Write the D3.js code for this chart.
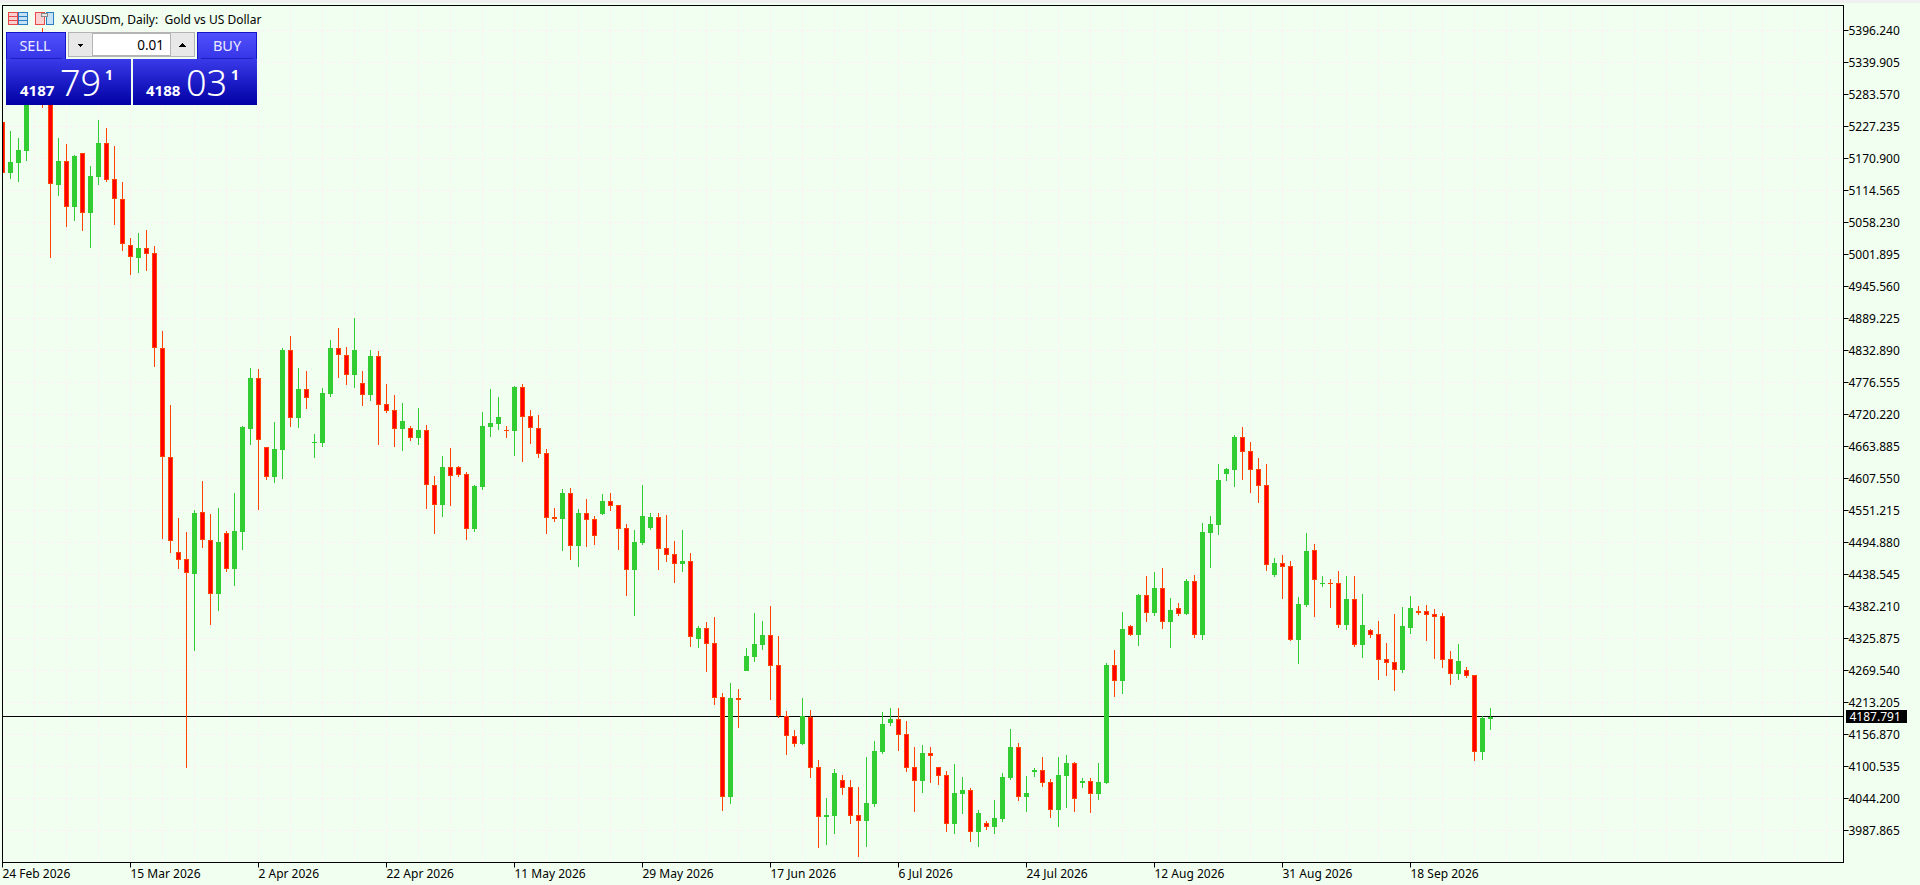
<!DOCTYPE html>
<html>
<head>
<meta charset="utf-8">
<title>XAUUSDm, Daily</title>
<script src="https://cdnjs.cloudflare.com/ajax/libs/d3/7.8.5/d3.min.js"></script>
<style>
html,body{margin:0;padding:0;background:#F0FFF0;overflow:hidden}
svg{display:block}
</style>
</head>
<body>
<svg id="c" width="1920" height="885"></svg>
<script>
const symbolTitle = "XAUUSDm, Daily:  Gold vs US Dollar";
const lastPrice = 4187.791;
const priceTicks = [5396.24,5339.905,5283.57,5227.235,5170.9,5114.565,5058.23,5001.895,4945.56,4889.225,4832.89,4776.555,4720.22,4663.885,4607.55,4551.215,4494.88,4438.545,4382.21,4325.875,4269.54,4213.205,4156.87,4100.535,4044.2,3987.865];
const dateTickBars = [0,16,32,48,64,80,96,112,128,144,160,176];
const dateTickLabels = ["24 Feb 2026","15 Mar 2026","2 Apr 2026","22 Apr 2026","11 May 2026","29 May 2026","17 Jun 2026","6 Jul 2026","24 Jul 2026","12 Aug 2026","31 Aug 2026","18 Sep 2026"];
const gridBars = d3.range(4,231,4);

const opens = [
5235.2,5145.4,5162.9,5184.1,5273.9,5353.1,5282.7,5124.2,5166.5,5085.5,
5180.6,5074.9,5138.3,5198.2,5134.8,5099.6,5018.6,4995.7,5013.4,5004.5,
4837.3,4645.4,4478.2,4465.8,4439.4,4548.6,4499.3,4404.2,4511.6,4448.2,
4513.4,4694.7,4784.4,4663.0,4610.2,4657.7,4833.8,4714.0,4765.1,4670.0,
4670.0,4756.3,4837.3,4825.0,4789.7,4775.7,4754.6,4823.2,4738.7,4728.1,
4694.7,4696.4,4678.8,4692.9,4596.1,4560.9,4627.8,4627.8,4615.5,4518.6,
4592.6,4698.2,4703.5,4692.9,4691.2,4768.6,4717.6,4696.4,4652.4,4539.8,
4536.2,4582.0,4488.7,4546.8,4536.2,4545.1,4567.9,4560.9,4520.4,4446.5,
4494.0,4520.4,4539.8,4485.2,4474.6,4457.0,4462.3,4325.0,4344.4,4318.0,
4222.9,4046.9,4221.1,4268.6,4293.3,4314.5,4332.0,4279.2,4189.4,4154.2,
4140.1,4187.6,4099.6,4011.6,4013.4,4076.8,4064.4,4015.1,4004.6,4034.5,
4126.0,4177.1,4184.1,4157.7,4099.6,4075.0,4124.3,4099.6,4085.6,3999.3,
4052.1,4059.2,3985.2,4001.1,3994.0,4008.1,4080.3,4134.9,4046.9,4090.8,
4094.3,4073.2,4024.0,4083.8,4106.7,4071.5,4075.0,4052.1,4071.5,4279.2,
4251.0,4347.9,4332.0,4402.4,4370.8,4414.8,4354.9,4379.6,4369.0,4427.1,
4332.0,4511.6,4525.7,4615.5,4622.5,4680.6,4656.0,4624.3,4596.1,4437.6,
4458.8,4453.5,4323.2,4384.8,4481.7,4421.8,4423.6,4423.6,4349.6,4395.4,
4314.5,4340.8,4333.8,4289.8,4284.5,4270.4,4344.4,4374.3,4374.3,4369.0,
4365.5,4289.8,4263.3,4270.4,4261.6,4126.0,4184.1];

const closes = [
5145.4,5164.7,5185.9,5273.9,5335.5,5273.9,5126.0,5166.5,5085.5,5175.3,
5074.9,5140.1,5198.2,5133.0,5099.6,5020.4,4997.5,5013.4,5002.8,4837.3,
4645.4,4497.5,4464.0,4441.2,4546.8,4499.3,4404.2,4495.8,4448.2,4515.1,
4698.2,4784.4,4675.3,4610.2,4659.5,4833.8,4714.0,4765.1,4749.3,4671.8,
4758.1,4837.3,4825.0,4789.7,4833.8,4754.6,4823.2,4736.9,4726.3,4694.7,
4708.8,4678.8,4692.9,4596.1,4560.9,4627.8,4611.9,4613.7,4518.6,4594.3,
4700.0,4705.2,4715.8,4691.2,4768.6,4715.8,4696.4,4650.7,4538.0,4536.2,
4582.0,4488.7,4546.8,4534.5,4506.3,4567.9,4559.1,4518.6,4446.5,4495.8,
4541.5,4539.8,4483.4,4472.9,4457.0,4462.3,4328.5,4344.4,4316.2,4221.1,
4046.9,4221.1,4217.6,4295.0,4316.2,4332.0,4277.4,4189.4,4154.2,4140.1,
4189.4,4097.9,4011.6,4015.1,4089.1,4062.7,4013.4,4004.6,4036.3,4127.8,
4175.3,4184.1,4156.0,4097.9,4075.0,4124.3,4119.0,4083.8,3999.3,4053.9,
4059.2,3985.2,4018.6,3994.0,4009.9,4082.0,4134.9,4046.9,4053.9,4094.3,
4071.5,4024.0,4085.6,4106.7,4043.3,4075.0,4052.1,4073.2,4279.2,4251.0,
4342.6,4332.0,4402.4,4370.8,4414.8,4354.9,4376.0,4369.0,4427.1,4332.0,
4513.4,4527.4,4604.9,4624.3,4680.6,4654.2,4622.5,4594.3,4455.3,4458.8,
4451.7,4323.2,4386.6,4479.9,4428.8,4423.6,4421.8,4349.6,4395.4,4314.5,
4349.6,4332.0,4288.0,4282.7,4270.4,4347.9,4379.6,4370.8,4367.2,4363.7,
4288.0,4263.3,4286.2,4259.8,4126.0,4185.9,4187.791];

const highs = [
5238.7,5219.3,5207.0,5282.7,5344.3,5400.6,5295.0,5207.0,5196.4,5177.1,
5180.6,5157.7,5238.7,5224.6,5192.9,5129.5,5031.0,5039.7,5045.0,5016.9,
4867.2,4736.9,4538.0,4513.4,4552.1,4603.1,4545.1,4555.6,4515.1,4582.0,
4700.0,4802.1,4800.3,4663.0,4707.0,4837.3,4858.4,4802.1,4796.8,4685.9,
4766.9,4851.4,4872.5,4839.1,4890.1,4796.8,4833.8,4832.0,4773.9,4754.6,
4740.5,4700.0,4731.7,4701.7,4611.9,4647.2,4661.2,4629.6,4619.0,4596.1,
4724.6,4765.1,4751.0,4700.0,4770.4,4773.9,4728.1,4719.3,4659.5,4555.6,
4589.1,4590.8,4553.9,4571.5,4541.5,4580.3,4582.0,4560.9,4527.4,4516.9,
4596.1,4546.8,4546.8,4543.3,4497.5,4516.9,4476.4,4347.9,4354.9,4363.7,
4229.9,4247.5,4237.0,4309.2,4370.8,4356.7,4383.1,4330.3,4198.2,4164.8,
4221.1,4200.0,4112.0,4045.1,4096.1,4085.6,4076.8,4064.4,4117.3,4145.4,
4196.5,4203.5,4203.5,4180.6,4134.9,4138.4,4134.9,4099.6,4092.6,4104.9,
4082.0,4062.7,4024.0,4004.6,4041.6,4089.1,4166.6,4141.9,4083.8,4097.9,
4117.3,4078.5,4117.3,4120.8,4108.4,4080.3,4080.3,4106.7,4282.7,4305.6,
4372.5,4349.6,4404.2,4435.9,4442.9,4449.9,4397.2,4388.4,4430.6,4437.6,
4529.2,4541.5,4633.1,4626.0,4684.1,4698.2,4671.8,4643.6,4633.1,4467.6,
4472.9,4462.3,4398.9,4511.6,4492.3,4435.9,4430.6,4444.7,4435.9,4435.9,
4404.2,4342.6,4356.7,4318.0,4369.0,4381.3,4400.7,4383.1,4384.8,4377.8,
4370.8,4303.9,4316.2,4275.7,4261.6,4189.4,4203.5];

const lows = [
5140.1,5134.8,5129.5,5166.5,5266.8,5259.8,4995.7,5104.9,5050.3,5060.9,
5043.3,5013.4,5124.2,5129.5,5053.8,5008.1,4965.8,4969.3,4972.8,4803.8,
4501.0,4476.4,4448.2,4097.9,4303.9,4485.2,4349.6,4374.3,4442.9,4418.3,
4481.7,4666.5,4552.1,4604.9,4599.6,4606.6,4698.2,4696.4,4729.9,4643.6,
4663.0,4751.0,4784.4,4772.1,4766.9,4735.2,4744.0,4666.5,4722.8,4663.0,
4656.0,4673.6,4666.5,4553.9,4509.8,4539.8,4559.1,4610.2,4499.3,4513.4,
4587.3,4680.6,4692.9,4678.8,4647.2,4636.6,4668.3,4643.6,4509.8,4531.0,
4479.9,4464.0,4451.7,4486.9,4490.5,4543.3,4550.3,4481.7,4400.7,4365.5,
4490.5,4516.9,4446.5,4460.5,4423.6,4442.9,4310.9,4309.2,4266.9,4208.8,
4022.2,4034.5,4168.3,4268.6,4284.5,4305.6,4217.6,4185.9,4120.8,4134.9,
4138.4,4080.3,3957.0,3962.3,3981.7,4050.4,3999.3,3941.2,3958.8,4029.2,
4122.5,4171.8,4127.8,4090.8,4020.2,4053.9,4071.5,4068.0,3985.2,3981.7,
4017.0,3967.6,3958.8,3988.7,3981.7,4002.8,4076.8,4039.8,4020.2,4082.0,
4064.4,4009.9,3994.0,4027.5,4020.2,4062.7,4018.6,4041.6,4069.7,4222.9,
4228.2,4330.3,4312.7,4354.9,4365.5,4342.6,4309.2,4365.5,4367.2,4326.7,
4323.2,4449.9,4508.0,4603.1,4592.6,4604.9,4582.0,4564.4,4444.7,4434.1,
4395.4,4321.5,4280.9,4381.3,4363.7,4416.5,4379.6,4344.4,4340.8,4310.9,
4291.5,4326.7,4252.8,4259.8,4233.4,4265.1,4333.8,4367.2,4321.5,4289.8,
4273.9,4244.0,4252.8,4256.3,4110.2,4112.0,4164.8];

const BG="#F0FFF0", GRID="#FFF0F5", BULL="#32CD32", BEAR="#FF4500", BEARBODY="#FF0000";
const L=2,T=5,R=1843,B=862;
const FONT="Noto Sans";

const svg=d3.select("#c");
svg.append("rect").attr("width",1920).attr("height",885).attr("fill",BG);
svg.append("rect").attr("width",1920).attr("height",3).attr("fill","#f0f0f0");

const x=d3.scaleLinear().domain([0,230]).range([L+.5,1842.5]);
const y=d3.scaleLinear().domain([3932.43,5441.13]).range([B,T]);
const py=v=>Math.round(y(v));

// grid
const plot=svg.append("g");
plot.selectAll("line.gh").data(priceTicks).join("line").attr("class","gh")
  .attr("x1",L).attr("x2",R).attr("y1",d=>Math.floor(y(d))+.5).attr("y2",d=>Math.floor(y(d))+.5)
  .attr("stroke",GRID).attr("stroke-dasharray","4 2");
plot.selectAll("line.gv").data(gridBars).join("line").attr("class","gv")
  .attr("x1",d=>x(d)).attr("x2",d=>x(d)).attr("y1",T).attr("y2",B)
  .attr("stroke",GRID).attr("stroke-dasharray","4 2");

// bid line
plot.append("line").attr("x1",L).attr("x2",R)
  .attr("y1",Math.floor(y(lastPrice))+.5).attr("y2",Math.floor(y(lastPrice))+.5)
  .attr("stroke","#000");

// candles
const bars=d3.range(opens.length).map(i=>({i,o:opens[i],h:highs[i],l:lows[i],c:closes[i]}));
const cg=svg.append("g").attr("shape-rendering","crispEdges");
const cand=cg.selectAll("g").data(bars).join("g");
cand.append("rect").attr("x",d=>x(d.i)-.5).attr("width",1)
  .attr("y",d=>py(d.h)).attr("height",d=>Math.max(1,py(d.l)-py(d.h)))
  .attr("fill",d=>d.c>=d.o?BULL:BEAR);
cand.append("rect").attr("x",d=>x(d.i)-2.5).attr("width",5)
  .attr("y",d=>py(Math.max(d.o,d.c))).attr("height",d=>Math.max(1,py(Math.min(d.o,d.c))-py(Math.max(d.o,d.c))))
  .attr("fill",d=>d.c>=d.o?BULL:BEAR);
cand.filter(d=>d.c<d.o && py(d.c)-py(d.o)>2).append("rect")
  .attr("x",d=>x(d.i)-1.5).attr("width",3)
  .attr("y",d=>py(d.o)+1).attr("height",d=>py(d.c)-py(d.o)-2)
  .attr("fill",BEARBODY);

// hide whatever leaks left of the chart frame
svg.append("rect").attr("x",0).attr("y",T).attr("width",L).attr("height",B-T).attr("fill",BG);

// frame
svg.append("rect").attr("x",L+.5).attr("y",T+.5).attr("width",R-L).attr("height",B-T)
  .attr("fill","none").attr("stroke","#000");

// axes
const yAxis=d3.axisRight(y).tickValues(priceTicks).tickSize(5).tickPadding(0).offset(0).tickFormat(d=>d.toFixed(3));
const yg=svg.append("g").attr("transform",`translate(${R+.5},0)`).call(yAxis);
yg.select(".domain").remove();
yg.selectAll(".tick").attr("transform",d=>`translate(0,${Math.floor(y(d))+.5})`);
yg.selectAll("text").attr("x",5).attr("dy",".35em").attr("font-size",12).attr("font-family",FONT).attr("fill","#000");

const xAxis=d3.axisBottom(x).tickValues(dateTickBars).tickSize(5).offset(0).tickFormat((d,i)=>dateTickLabels[i]);
const xg=svg.append("g").attr("transform",`translate(0,${B+.5})`).call(xAxis);
xg.select(".domain").remove();
xg.selectAll("text").attr("text-anchor","start").attr("x",0).attr("y",15).attr("dy",0)
  .attr("font-size",12).attr("font-family",FONT).attr("fill","#000");

// last price label
svg.append("rect").attr("x",1846).attr("y",710).attr("width",61).attr("height",13).attr("fill","#000");
svg.append("text").attr("x",1849.5).attr("y",720.5).attr("font-size",12).attr("font-family",FONT).attr("fill","#fff").text(lastPrice.toFixed(3));

// one-click panel
const defs=svg.append("defs");
function grad(id,a,b){const g=defs.append("linearGradient").attr("id",id).attr("x1",0).attr("y1",0).attr("x2",0).attr("y2",1);
 g.append("stop").attr("offset",0).attr("stop-color",a);g.append("stop").attr("offset",1).attr("stop-color",b);}
grad("tab","#5252ff","#3434e6");grad("box","#3a3aea","#0000a4");
const p=svg.append("g").attr("shape-rendering","crispEdges");
const ps=svg.append("g");
// icon 1
[[8,"#e84a4a","#fbd0d0"],[18,"#2a7fc0","#c6e2f6"]].forEach(([ix,c,f])=>{
  p.append("rect").attr("x",ix+.5).attr("y",12.5).attr("width",9).attr("height",12).attr("fill",f).attr("stroke",c);
  [16.5,20.5].forEach(ly=>p.append("line").attr("x1",ix).attr("x2",ix+10).attr("y1",ly).attr("y2",ly).attr("stroke",c));
});
// icon 2
p.append("rect").attr("x",35.5).attr("y",12.5).attr("width",9).attr("height",12).attr("fill","#fbd0d0").attr("stroke","#e84a4a");
p.append("rect").attr("x",46.5).attr("y",12.5).attr("width",7).attr("height",12).attr("fill","#c6e2f6").attr("stroke","#2a7fc0");
p.append("rect").attr("x",41.5).attr("y",13.5).attr("width",6).attr("height",3).attr("fill","#e6e6e6").attr("stroke","#888");
// title
ps.append("text").attr("x",62).attr("y",24).attr("font-size",12).attr("font-family",FONT).attr("fill","#000").style("white-space","pre").text(symbolTitle);
// tabs + boxes
p.append("rect").attr("x",6).attr("y",32).attr("width",60).attr("height",28).attr("fill","url(#tab)");
p.append("rect").attr("x",197).attr("y",32).attr("width",60).attr("height",28).attr("fill","url(#tab)");
p.append("path").attr("d","M6.5 60V32.5H65.5V60M197.5 60V32.5H256.5V60").attr("fill","none").attr("stroke","#1414c8");
p.append("rect").attr("x",6).attr("y",59).attr("width",125).attr("height",46).attr("fill","url(#box)");
p.append("rect").attr("x",133).attr("y",59).attr("width",124).attr("height",46).attr("fill","url(#box)");
p.append("line").attr("x1",10).attr("x2",62).attr("y1",58.5).attr("y2",58.5).attr("stroke","#2020c0");
p.append("line").attr("x1",201).attr("x2",253).attr("y1",58.5).attr("y2",58.5).attr("stroke","#2020c0");
// spinner
p.append("rect").attr("x",68.5).attr("y",32.5).attr("width",126).attr("height",24).attr("fill","#e8e8e8").attr("stroke","#b4b4b4");
p.append("rect").attr("x",92.5).attr("y",33.5).attr("width",78).attr("height",22).attr("fill","#fff").attr("stroke","#b4b4b4");
p.append("path").attr("d","M77 43.5h7l-3.5 3.5z").attr("fill","#000");
p.append("path").attr("d","M179 46.5h7l-3.5-3.5z").attr("fill","#000");
const t=(s,xx,yy,fs,anchor,fill,w)=>ps.append("text").attr("x",xx).attr("y",yy).attr("font-size",fs).attr("text-anchor",anchor)
  .attr("font-family",FONT).attr("font-weight",w||400).attr("fill",fill).text(s);
t("SELL",35,50.5,14.5,"middle","#ecebff");
t("BUY",227,50.5,14.5,"middle","#ecebff");
t("0.01",164,50,13.5,"end","#000");
t("4187",20,96,15,"start","#fff",700);
t("79",60,96,36,"start","#fff",300);
t("1",105,80,14,"start","#fff",700);
t("4188",146,96,15,"start","#fff",700);
t("03",186,96,36,"start","#fff",300);
t("1",231,80,14,"start","#fff",700);
</script>
</body>
</html>
